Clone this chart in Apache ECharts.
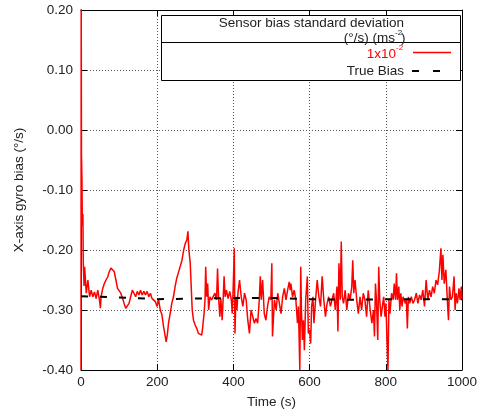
<!DOCTYPE html>
<html>
<head>
<meta charset="utf-8">
<script src="https://cdn.jsdelivr.net/npm/echarts@6/dist/echarts.min.js"></script>
<style>html,body{margin:0;padding:0;background:#fff}#c{width:480px;height:417px}</style>
</head>
<body>
<div id="c"></div>
<script>
// ---- Data ----
const xTicks = [0, 200, 400, 600, 800, 1000];
const yTicks = [-0.40, -0.30, -0.20, -0.10, 0.00, 0.10, 0.20];

const timeA = [0, 0.5, 1.2, 2.5, 3.5, 5, 6, 8, 9.5, 13.8,
  18.1, 22.5, 26.8, 31.1, 35.4, 39.7, 44, 48.4, 51, 52.7,
  57, 61.3, 65.6, 70, 74.3, 78.6, 82.9, 87.2, 91.6, 95.9,
  100.2, 104.5, 108.8, 113.1, 117.4, 121.8, 126.1, 130.4, 134.7, 139,
  143.4, 147.7, 152, 156.3, 160.6, 165, 169.3, 173.6, 177.9, 182.2,
  186.5, 190.8, 195.2, 199.5, 203.8, 208.1, 212.4, 216.8, 221.1, 223.6,
  227, 229.7, 234, 238.3, 242.7, 247, 251.3];
const biasA = [-0.40, 0.25, -0.04, -0.08, -0.16, -0.14, -0.22, -0.26, -0.228, -0.272,
  -0.25, -0.278, -0.267, -0.278, -0.27, -0.281, -0.267, -0.283, -0.297, -0.278,
  -0.264, -0.256, -0.25, -0.245, -0.236, -0.23, -0.228, -0.236, -0.25, -0.264,
  -0.267, -0.272, -0.28, -0.289, -0.297, -0.3, -0.289, -0.278, -0.267, -0.272,
  -0.278, -0.269, -0.275, -0.267, -0.275, -0.269, -0.275, -0.269, -0.278, -0.272,
  -0.281, -0.278, -0.286, -0.294, -0.283, -0.3, -0.308, -0.328, -0.344, -0.353,
  -0.339, -0.322, -0.306, -0.289, -0.278, -0.261, -0.247];

const timeB = [256.5, 260.8, 265.1, 269.4, 273.7, 278.0, 280.6, 283.2, 286.7, 289.3,
  291.9, 295.3, 299.6, 304.0, 308.3, 312.6, 316.9, 319.5, 323.0, 325.5,
  327.3, 329.9, 332.5, 335.0, 338.5, 342.8, 347.1, 351.5, 355.8, 358.4,
  361.0, 364.4, 367.0, 370.5, 373.0, 375.6, 378.2, 381.7, 386.0, 390.3,
  394.6, 397.2, 399.8, 402.4, 404.1, 406.7, 409.3, 411.9, 416.2, 420.5,
  424.9, 429.2, 433.5, 437.8, 442.1, 446.4, 450.8, 455.1, 459.4, 463.7,
  468.0, 470.6, 473.2, 476.7, 481.0, 485.3, 489.6, 494.0, 498.3, 500.9,
  502.6];
const biasB = [-0.236, -0.233, -0.217, -0.200, -0.189, -0.183, -0.169, -0.200, -0.222, -0.261,
  -0.300, -0.317, -0.325, -0.331, -0.339, -0.336, -0.342, -0.328, -0.306, -0.283,
  -0.228, -0.278, -0.256, -0.300, -0.278, -0.283, -0.281, -0.272, -0.283, -0.231,
  -0.278, -0.311, -0.281, -0.317, -0.283, -0.244, -0.278, -0.267, -0.281, -0.269,
  -0.283, -0.306, -0.256, -0.197, -0.339, -0.278, -0.300, -0.272, -0.250, -0.278,
  -0.294, -0.272, -0.283, -0.317, -0.339, -0.300, -0.311, -0.322, -0.314, -0.322,
  -0.283, -0.244, -0.283, -0.250, -0.306, -0.317, -0.294, -0.278, -0.283, -0.222,
  -0.344];

const timeC = [507.8, 512.1, 516.4, 520.7, 525.0, 529.3, 533.7, 538.0, 542.3, 546.6,
  549.2, 550.9, 555.3, 559.6, 563.9, 568.2, 570.8, 574.3, 576.8, 578.6,
  581.2, 583.8, 586.3, 589.8, 594.1, 596.7, 600.2, 602.8, 605.3, 608.8,
  611.4, 615.7, 620.0, 624.3, 628.7, 633.0, 637.3, 641.6, 645.9, 650.2,
  654.6, 658.9, 663.2, 667.5, 671.8, 674.4, 677.0, 680.5, 683.1, 685.7,
  689.1, 693.4, 697.7, 702.1, 706.4, 710.7, 713.3, 715.9, 719.3, 723.7,
  728.0, 732.3, 736.6, 740.9, 745.2, 749.6, 753.9];
const biasC = [-0.283, -0.300, -0.272, -0.289, -0.306, -0.278, -0.264, -0.283, -0.267, -0.253,
  -0.267, -0.256, -0.278, -0.267, -0.283, -0.322, -0.294, -0.400, -0.228, -0.300,
  -0.350, -0.317, -0.367, -0.283, -0.244, -0.339, -0.333, -0.356, -0.294, -0.278,
  -0.322, -0.283, -0.250, -0.278, -0.294, -0.244, -0.283, -0.311, -0.289, -0.278,
  -0.294, -0.283, -0.272, -0.300, -0.261, -0.336, -0.222, -0.283, -0.186, -0.278,
  -0.289, -0.267, -0.300, -0.272, -0.283, -0.261, -0.217, -0.272, -0.250, -0.283,
  -0.306, -0.278, -0.300, -0.272, -0.283, -0.311, -0.267];

const timeD = [759.1, 763.4, 767.7, 770.3, 772.9, 775.5, 778.9, 781.5, 784.1, 787.6,
  791.0, 794.5, 797.9, 800.5, 803.1, 805.7, 808.3, 810.9, 815.2, 819.5,
  822.1, 825.6, 828.1, 830.7, 834.2, 836.8, 839.4, 842.8, 845.4, 848.0,
  851.5, 854.1, 856.6, 859.2, 862.7, 867.0, 871.3, 875.6, 880.0, 884.3,
  888.6, 892.9, 897.2, 901.6, 905.9, 910.2, 914.5, 918.8, 923.1, 927.5,
  931.8, 936.1, 940.4, 944.7, 947.3, 949.9, 953.4, 957.7, 962.0, 964.6,
  967.2, 970.6, 974.9, 979.3, 981.9, 984.5, 987.9, 992.2, 994.8, 998.3,
  1000];
const biasD = [-0.300, -0.322, -0.300, -0.344, -0.256, -0.283, -0.350, -0.228, -0.283, -0.311,
  -0.294, -0.278, -0.311, -0.289, -0.350, -0.400, -0.283, -0.306, -0.272, -0.283,
  -0.256, -0.283, -0.239, -0.283, -0.261, -0.300, -0.272, -0.294, -0.278, -0.283,
  -0.289, -0.283, -0.331, -0.278, -0.289, -0.278, -0.289, -0.283, -0.272, -0.289,
  -0.275, -0.283, -0.267, -0.294, -0.250, -0.283, -0.267, -0.278, -0.261, -0.272,
  -0.250, -0.258, -0.236, -0.197, -0.250, -0.208, -0.256, -0.233, -0.289, -0.317,
  -0.261, -0.283, -0.278, -0.244, -0.300, -0.272, -0.289, -0.264, -0.283, -0.261,
  -0.283];

const trueTime = [0, 100, 200, 300, 400, 500, 600, 700, 800, 900, 1000];
const trueBias = [-0.277, -0.279, -0.282, -0.281, -0.280, -0.280, -0.282, -0.283, -0.282, -0.282, -0.282];

const legendTitle1 = 'Sensor bias standard deviation';
const legendTitle2 = '(°/s) (ms';
const seriesName = '1x10';
const trueName = 'True Bias';

// ---- Build ----
const measTime = timeA.concat(timeB, timeC, timeD);
const measBias = biasA.concat(biasB, biasC, biasD);
const measured = measTime.map((t, i) => [t, measBias[i]]);
const truth = trueTime.map((t, i) => [t, trueBias[i]]);

const FONT = '"Liberation Sans", Arial, sans-serif';
const FS = 13.5;
const chart = echarts.init(document.getElementById('c'), null, {renderer: 'canvas'});

const gridLine = {show: true, lineStyle: {color: '#555', type: [1, 2], width: 1}};
const tickIn = {show: true, inside: true, length: 6, lineStyle: {color: '#000', width: 1}};

chart.setOption({
  animation: false,
  backgroundColor: '#fff',
  grid: {left: 81, right: 13, top: 10, bottom: 47, containLabel: false},
  xAxis: [{
    type: 'value', min: xTicks[0], max: xTicks[xTicks.length - 1], interval: 200,
    position: 'bottom',
    axisLine: {show: true, onZero: false, lineStyle: {color: '#000', width: 1}},
    axisTick: tickIn,
    splitLine: gridLine,
    axisLabel: {color: '#222', fontFamily: FONT, fontSize: FS, margin: 5,
      formatter: v => String(v)},
    name: 'Time (s)', nameLocation: 'middle', nameGap: 25,
    nameTextStyle: {color: '#222', fontFamily: FONT, fontSize: FS}
  }, {
    type: 'value', min: xTicks[0], max: xTicks[xTicks.length - 1], interval: 200,
    position: 'top',
    axisLine: {show: true, onZero: false, lineStyle: {color: '#000', width: 1}},
    axisTick: tickIn, axisLabel: {show: false}, splitLine: {show: false}
  }],
  yAxis: [{
    type: 'value', min: yTicks[0], max: yTicks[yTicks.length - 1], interval: 0.1,
    position: 'left',
    axisLine: {show: true, onZero: false, lineStyle: {color: '#000', width: 1}},
    axisTick: tickIn,
    splitLine: gridLine,
    axisLabel: {color: '#222', fontFamily: FONT, fontSize: FS, margin: 8,
      formatter: v => v.toFixed(2)},
    name: 'X-axis gyro bias (°/s)', nameLocation: 'middle', nameGap: 55,
    nameTextStyle: {color: '#222', fontFamily: FONT, fontSize: FS}
  }, {
    type: 'value', min: yTicks[0], max: yTicks[yTicks.length - 1], interval: 0.1,
    position: 'right',
    axisLine: {show: true, onZero: false, lineStyle: {color: '#000', width: 1}},
    axisTick: tickIn, axisLabel: {show: false}, splitLine: {show: false}
  }],
  series: [{
    name: 'measured', type: 'line', data: measured, showSymbol: false, clip: true,
    lineStyle: {color: '#ff0000', width: 1.5}, z: 3
  }, {
    name: 'true', type: 'line', data: truth, showSymbol: false, clip: true,
    lineStyle: {color: '#000', width: 2, type: [7, 12]}, z: 4
  }],
  graphic: [
    {type: 'rect', shape: {x: 161.5, y: 15.5, width: 299, height: 65},
      style: {fill: '#fff', stroke: '#000', lineWidth: 1}, z: 10},
    {type: 'line', shape: {x1: 161.5, y1: 42.5, x2: 460.5, y2: 42.5},
      style: {stroke: '#000', lineWidth: 1}, z: 11},
    {type: 'text', x: 404, y: 23, z: 11,
      style: {text: legendTitle1, align: 'right', verticalAlign: 'middle', fill: '#222', font: FS + 'px ' + FONT}},
    {type: 'text', x: 395, y: 38, z: 11,
      style: {text: legendTitle2, align: 'right', verticalAlign: 'middle', fill: '#222', font: FS + 'px ' + FONT}},
    {type: 'text', x: 395, y: 33, z: 11,
      style: {text: '-2', align: 'left', verticalAlign: 'middle', fill: '#222', font: '8px ' + FONT}},
    {type: 'text', x: 401, y: 38, z: 11,
      style: {text: ')', align: 'left', verticalAlign: 'middle', fill: '#222', font: FS + 'px ' + FONT}},
    {type: 'text', x: 396, y: 54, z: 11,
      style: {text: seriesName, align: 'right', verticalAlign: 'middle', fill: '#ff0000', font: FS + 'px ' + FONT}},
    {type: 'text', x: 396, y: 47.5, z: 11,
      style: {text: '-2', align: 'left', verticalAlign: 'middle', fill: '#ff0000', font: '8px ' + FONT}},
    {type: 'line', shape: {x1: 413, y1: 52.5, x2: 451, y2: 52.5},
      style: {stroke: '#ff0000', lineWidth: 1.3}, z: 11},
    {type: 'text', x: 404, y: 71, z: 11,
      style: {text: trueName, align: 'right', verticalAlign: 'middle', fill: '#222', font: FS + 'px ' + FONT}},
    {type: 'line', shape: {x1: 412, y1: 71, x2: 440, y2: 71},
      style: {stroke: '#000', lineWidth: 2, lineDash: [7, 14]}, z: 11}
  ]
});
</script>
</body>
</html>
